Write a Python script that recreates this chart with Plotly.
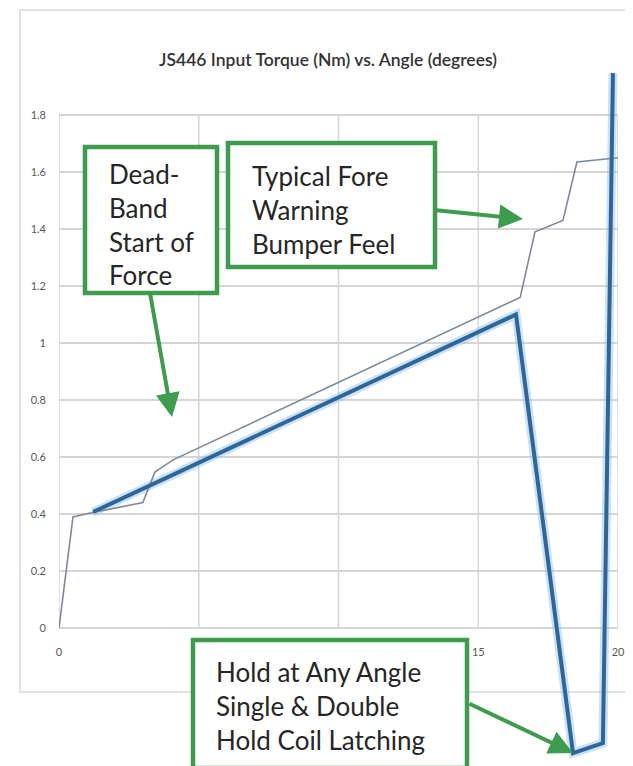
import plotly.graph_objects as go

OFF = 8  # page body margin in the browser
W, H = 633 - OFF, 766 - OFF

# ---------------- data ----------------
thin_angle = [0, 0.5, 1.2, 3.0, 3.43, 4.08, 16.5, 17.03, 18.03, 18.53, 20.0]
thin_torque = [0, 0.39, 0.405, 0.44, 0.547, 0.59, 1.16, 1.39, 1.43, 1.635, 1.65]

thick_angle = [1.22, 16.35, 18.39, 19.46, 19.82]
thick_torque = [0.407, 1.10, -0.439, -0.404, 1.947]

x_ticks = [0, 5, 10, 15, 20]
x_tick_text = ["0", "5", "10", "15", "20"]
y_ticks = [0, 0.2, 0.4, 0.6, 0.8, 1.0, 1.2, 1.4, 1.6, 1.8]
y_tick_text = ["0", "0.2", "0.4", "0.6", "0.8", "1", "1.2", "1.4", "1.6", "1.8"]

title_text = "JS446 Input Torque (Nm) vs. Angle (degrees)"
box_texts = [
    "Dead-<br>Band<br>Start of<br>Force",
    "Typical Fore<br>Warning<br>Bumper Feel",
    "Hold at Any Angle<br>Single &amp; Double<br>Hold Coil Latching",
]

# ---------------- helpers (window pixel -> paper) ----------------
def px(x):
    return (x - OFF) / W


def py(y):
    return 1 - (y - OFF) / H


GREEN = "#3f9b4d"
BLUE = "#2e6797"
GRID = "#d6d6d6"
FONT = "Lato"

fig = go.Figure()

# glow under the thick line
fig.add_trace(go.Scatter(x=thick_angle, y=thick_torque, mode="lines",
                         line=dict(color="rgba(140,190,235,0.45)", width=9),
                         hoverinfo="skip", showlegend=False))
fig.add_trace(go.Scatter(x=thin_angle, y=thin_torque, mode="lines",
                         line=dict(color="#7d8a9c", width=1.6),
                         showlegend=False))
fig.add_trace(go.Scatter(x=thick_angle, y=thick_torque, mode="lines",
                         line=dict(color=BLUE, width=4),
                         showlegend=False))

shapes = []
# chart-area border (open on the right, it runs off the picture)
x_l, x_r, y_t, y_b = px(20), px(700), py(10), py(692)
shapes.append(dict(type="path", xref="paper", yref="paper",
                   path=f"M {x_r},{y_t} L {x_l},{y_t} L {x_l},{y_b} L {x_r},{y_b}",
                   line=dict(color="#d9d9d9", width=1.5), layer="below"))
# vertical gridlines (incl. value axis line) from 0 to top tick
for xv in x_ticks:
    shapes.append(dict(type="line", xref="x", yref="y",
                       x0=xv, x1=xv, y0=y_ticks[0], y1=y_ticks[-1],
                       line=dict(color=GRID, width=1.5), layer="below"))

# text boxes (pixel rectangles)
boxes = [(85, 147, 217, 293), (228, 143, 435, 267), (193, 640, 467, 768)]
for (x0, y0, x1, y1) in boxes:
    shapes.append(dict(type="rect", xref="paper", yref="paper",
                       x0=px(x0), x1=px(x1), y0=py(y1), y1=py(y0),
                       fillcolor="white", line=dict(color=GREEN, width=4.5),
                       layer="above"))

annotations = []
text_pos = [(107, 224), (250, 210), (214, 706)]
for t, (tx, ty) in zip(box_texts, text_pos):
    annotations.append(dict(text=t, xref="paper", yref="paper",
                            x=px(tx), y=py(ty), xanchor="left", yanchor="middle",
                            align="left", showarrow=False,
                            font=dict(family=FONT, size=26, color="#262626")))

# arrows: (tail_x, tail_y, tip_x, tip_y) in pixels
arrows = [(150, 293, 172, 417), (435, 210, 523, 219), (468, 703, 573, 753)]
for (ax0, ay0, tx, ty) in arrows:
    annotations.append(dict(text="", xref="paper", yref="paper",
                            x=px(tx), y=py(ty), axref="pixel", ayref="pixel",
                            ax=ax0 - tx, ay=ay0 - ty, showarrow=True,
                            arrowhead=2, arrowsize=1.2, arrowwidth=4,
                            arrowcolor=GREEN, standoff=0, startstandoff=0))

fig.update_layout(
    width=W, height=H,
    margin=dict(l=0, r=0, t=0, b=0),
    paper_bgcolor="white", plot_bgcolor="white",
    showlegend=False,
    title=dict(text=title_text, x=px(328), y=py(60), xref="paper", yref="paper",
               xanchor="center", yanchor="middle",
               font=dict(family=FONT, size=17.5, color="#333333", weight=600)),
    xaxis=dict(domain=[px(59), px(618)], range=[0, 20],
               tickvals=x_ticks, ticktext=x_tick_text,
               showgrid=False, zeroline=False, showline=False, ticks="",
               anchor="free", position=py(628), ticklabelstandoff=16,
               automargin=False,
               tickfont=dict(family=FONT, size=11, color="#595959")),
    yaxis=dict(domain=[py(764.8), py(58)], range=[-0.48, 2.0],
               tickvals=y_ticks, ticktext=y_tick_text,
               showgrid=True, gridcolor=GRID, gridwidth=1.5,
               zeroline=False, showline=False, ticks="",
               ticklabelstandoff=12, automargin=False,
               tickfont=dict(family=FONT, size=11, color="#595959")),
    shapes=shapes,
    annotations=annotations,
)

fig.write_html("out.html")
